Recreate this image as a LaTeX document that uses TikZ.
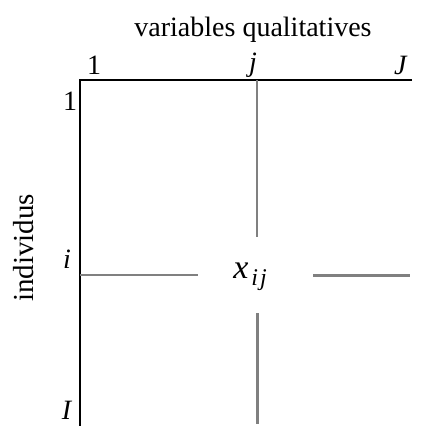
\documentclass[tikz,border=0pt]{standalone}
\usepackage{fontspec}
\setmainfont{Liberation Serif}
\begin{document}
\begin{tikzpicture}[x=1pt,y=-1pt,
  lbl/.style={inner sep=0pt,font=\fontsize{28}{30}\selectfont},
  frame/.style={line width=2pt,black},
  thinln/.style={line width=2pt,color={rgb,255:red,128;green,128;blue,128}},
  thickln/.style={line width=3pt,color={rgb,255:red,128;green,128;blue,128}}]
\useasboundingbox (0,0) rectangle (424,426);
% labels
\node[lbl] (title) at (253,30) {variables qualitatives};
\node[lbl] (c1) at (94,65) {1};
\node[lbl] (cj) at (253,65) {\textit{j}};
\node[lbl] (cJ) at (401,65) {\textit{J}};
\node[lbl] (r1) at (70,101) {1};
\node[lbl] (ri) at (67,259) {\textit{i}};
\node[lbl] (rI) at (67,410) {\textit{I}};
\node[lbl,rotate=90,font=\fontsize{29}{31}\selectfont] (ind) at (24,248) {individus};
\node[lbl] (x) at (250,277) {\fontsize{34}{36}\selectfont\textit{x}\kern3pt\raisebox{-7pt}{\fontsize{24}{26}\selectfont\textit{i}\kern2pt\textit{j}}};
% frame
\coordinate (tl) at (80,80);
\coordinate (tr) at (412,80);
\coordinate (bl) at (80,426);
\draw[frame] (tr) -- (tl) -- (bl);
% grid lines
\coordinate (vj0) at (257,80);
\coordinate (vj1) at (257,237);
\coordinate (vj2) at (257,313);
\coordinate (vj3) at (257,424);
\coordinate (hi0) at (80,275);
\coordinate (hi1) at (198,275);
\coordinate (hi2) at (313,275);
\coordinate (hi3) at (410,275);
\draw[thinln] (vj0) -- (vj1);
\draw[thickln] (vj2) -- (vj3);
\draw[thinln] (hi0) -- (hi1);
\draw[thickln] (hi2) -- (hi3);
\end{tikzpicture}
\end{document}
